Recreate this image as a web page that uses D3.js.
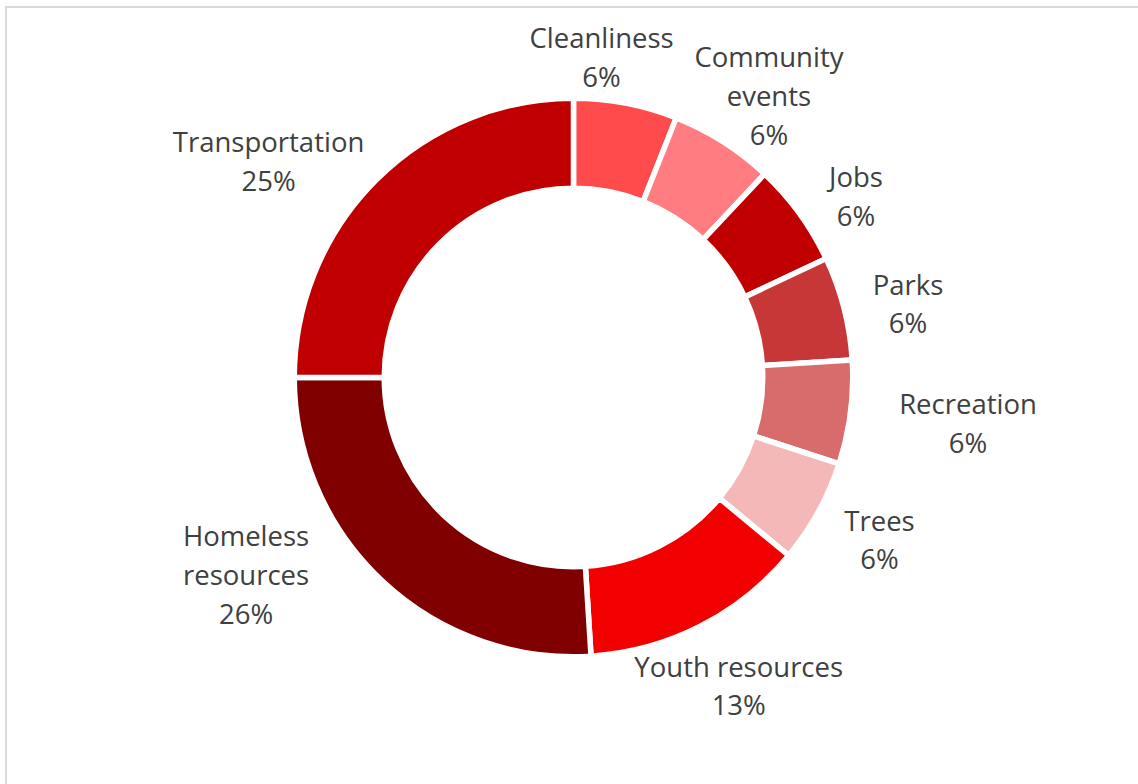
<!DOCTYPE html>
<html>
<head>
<meta charset="utf-8">
<script src="https://cdn.jsdelivr.net/npm/d3@7"></script>
<style>
  html, body { margin: 0; padding: 0; background: #fff; }
  svg { display: block; }
</style>
</head>
<body>
<svg id="chart" width="1138" height="784"></svg>
<script>
// ---- data ----
const categories = ["Cleanliness", "Community\nevents", "Jobs", "Parks", "Recreation", "Trees", "Youth resources", "Homeless\nresources", "Transportation"];
const values = [6, 6, 6, 6, 6, 6, 13, 26, 25];
const colors = ["#FF4B4B", "#FF7C80", "#C00000", "#C83737", "#D86B6B", "#F5B8B8", "#F20000", "#800000", "#C00000"];

// ---- layout ----
const W = 1138, H = 784;
const cx = 573.5, cy = 377.5;
const gap = 5.5;
const outerR = 276.5 + gap / 2, innerR = 192 - gap / 2;
const labelR = 345;
const lineH = 38.7;
const fontSize = 27.5;
// small manual nudges for label blocks (like dragged labels in the original)
const labelNudge = [[-36.6, 18.9], [10.6, 10.3], [3.4, 21.8], [0.3, 12.8], [52.2, 2.8], [3.7, -3.2], [8.6, 1.6], [-91.3, -53.5], [-61, 28]];

const svg = d3.select("#chart");
svg.append("rect").attr("width", W).attr("height", H).attr("fill", "#fff");
svg.append("path")
  .attr("d", `M6,${H + 5} L6,7 L${W + 5},7`)
  .attr("fill", "none").attr("stroke", "#D9D9D9").attr("stroke-width", 2);

const total = d3.sum(values);
const data = categories.map((c, i) => ({ name: c, value: values[i], color: colors[i], i }));

const pie = d3.pie().value(d => d.value).sort(null).startAngle(0).endAngle(2 * Math.PI);
const arcs = pie(data);
const arc = d3.arc().innerRadius(innerR).outerRadius(outerR);
const labelArc = d3.arc().innerRadius(labelR).outerRadius(labelR);

const g = svg.append("g").attr("transform", `translate(${cx},${cy})`);
g.selectAll("path.slice").data(arcs).enter().append("path")
  .attr("class", "slice")
  .attr("d", arc)
  .attr("fill", d => d.data.color)
  .attr("stroke", "#fff")
  .attr("stroke-width", gap)
  .attr("stroke-linejoin", "miter");

const labels = g.selectAll("text.lbl").data(arcs).enter().append("text")
  .attr("class", "lbl")
  .attr("text-anchor", "middle")
  .style("font-family", "'Open Sans', Lato, sans-serif")
  .style("font-size", fontSize + "px")
  .attr("fill", "#404040");

labels.each(function(d) {
  const [x0, y0] = labelArc.centroid(d);
  const [dx, dy] = labelNudge[d.data.i];
  const x = x0 + dx, y = y0 + dy;
  const lines = d.data.name.split("\n").concat([Math.round(d.data.value / total * 100) + "%"]);
  const n = lines.length;
  const t = d3.select(this);
  lines.forEach((ln, k) => {
    t.append("tspan")
      .attr("x", x)
      .attr("y", y + (k - (n - 1) / 2) * lineH)
      .attr("dy", "0.35em")
      .text(ln);
  });
});
</script>
</body>
</html>
